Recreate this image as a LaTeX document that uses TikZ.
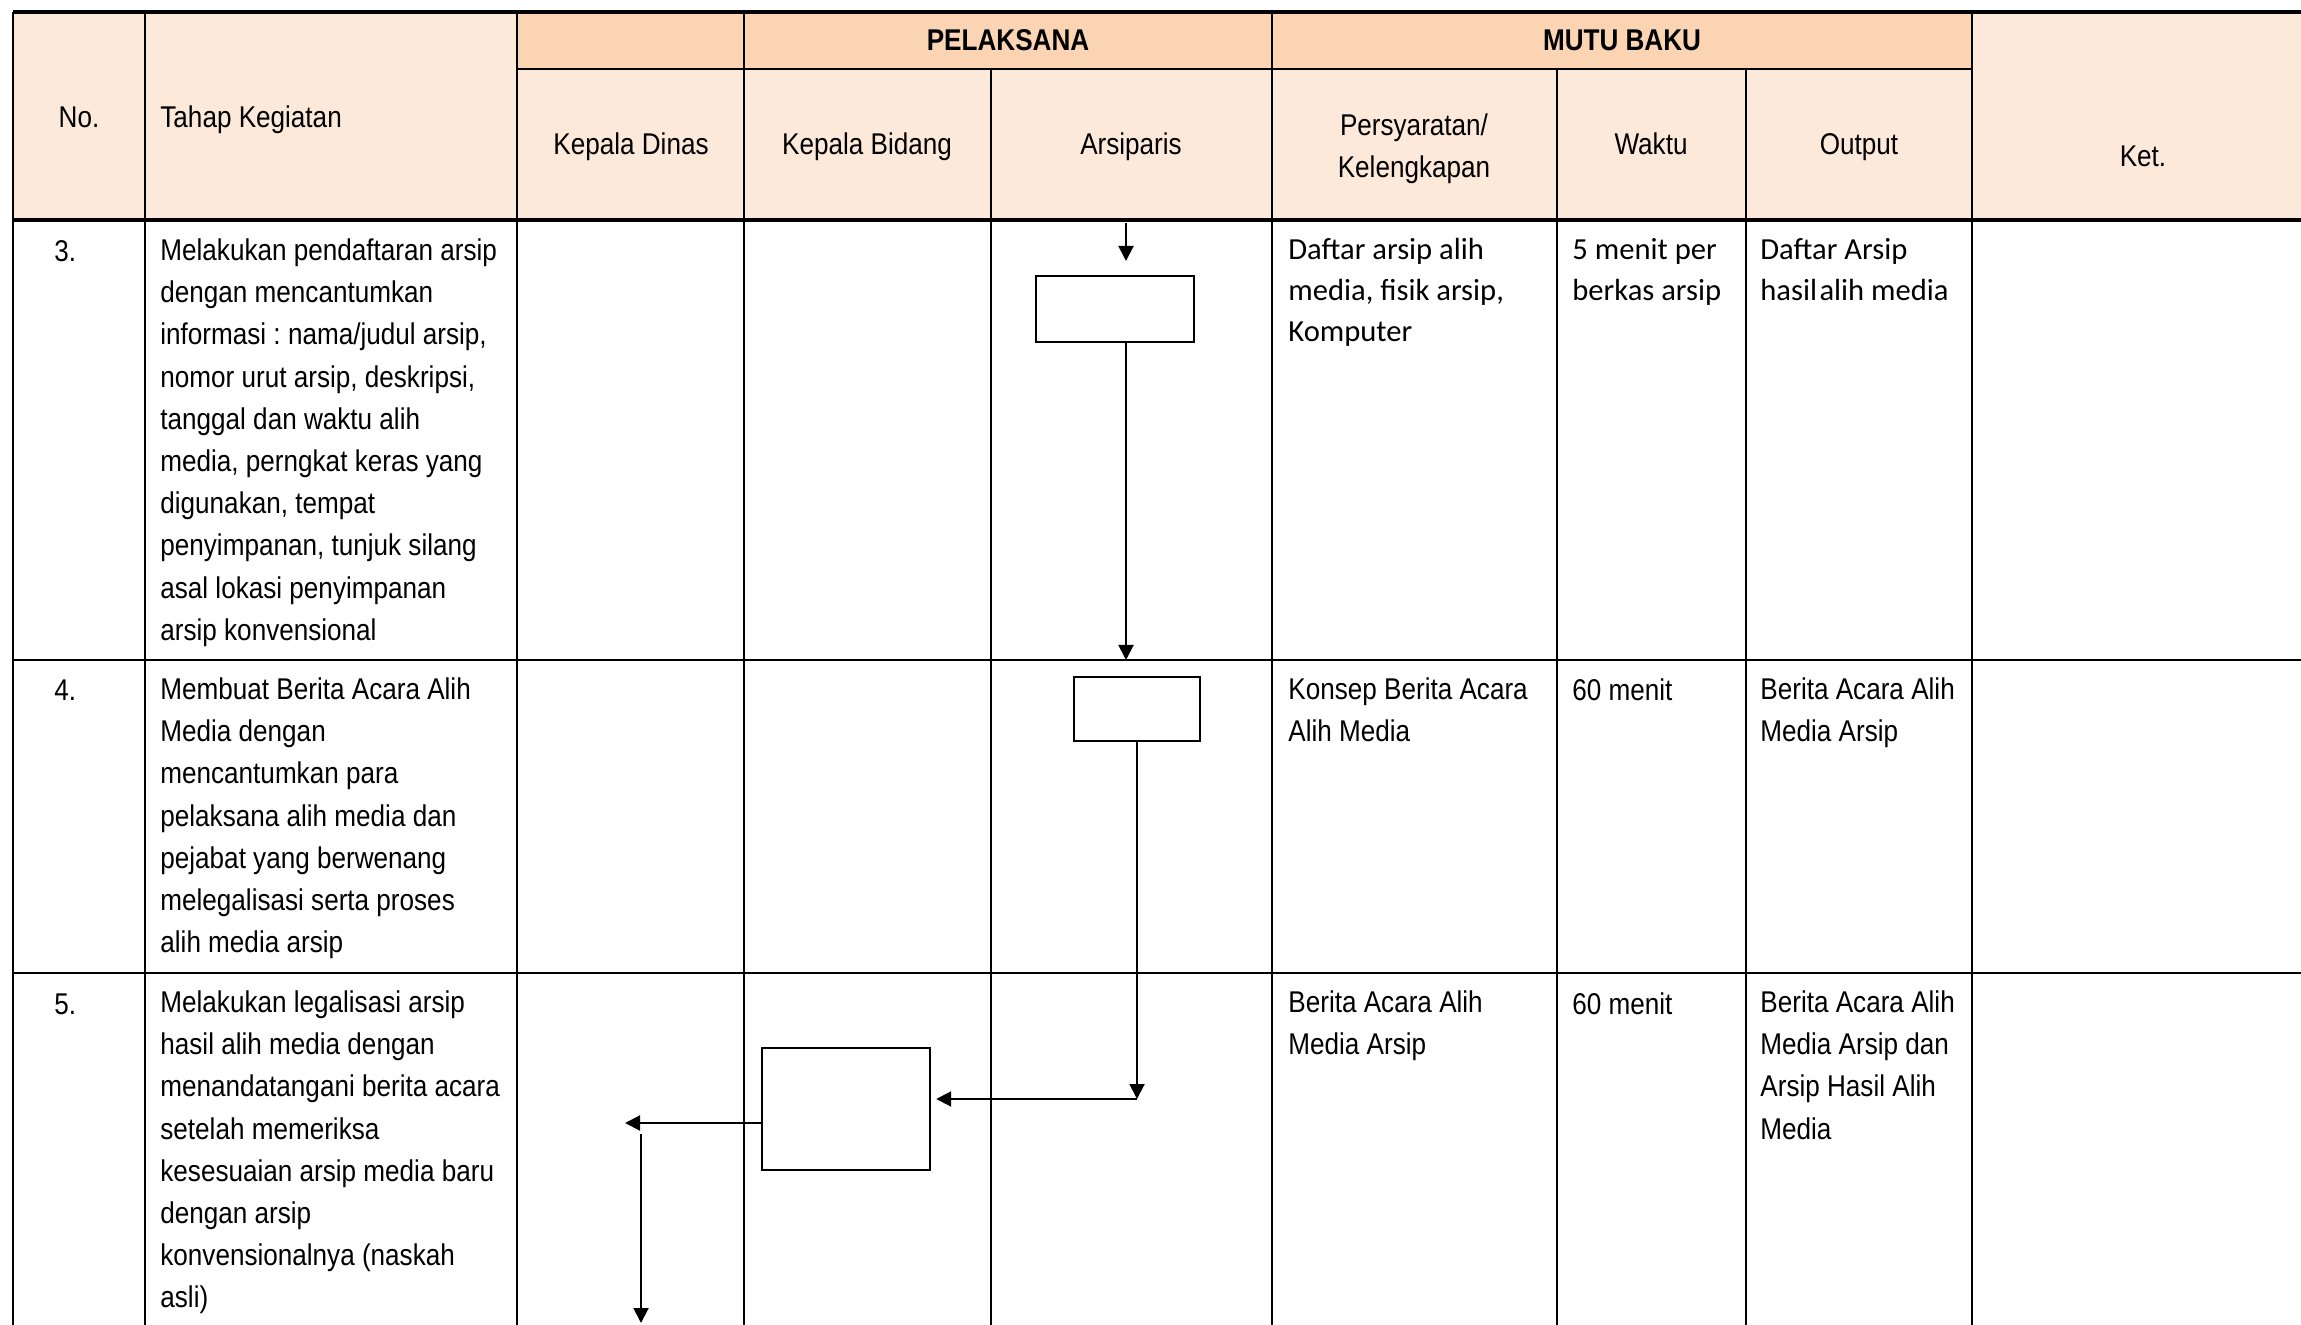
\documentclass[tikz,border=0pt]{standalone}
\usepackage{fontspec}
\setmainfont[FakeStretch=0.87]{Liberation Sans}
\newfontfamily\calibri{Carlito}
\frenchspacing
\usetikzlibrary{arrows.meta}
\definecolor{peachdark}{HTML}{FBD4B4}
\definecolor{peachlight}{HTML}{FDE9D9}
\tikzstyle{grid} = [line width=1.3pt]
\tikzstyle{gridthick} = [line width=1.7pt]
\tikzstyle{head} = [anchor=base, align=center, inner sep=0pt, font=\fontsize{15}{21}\selectfont]
\tikzstyle{headtwo} = [anchor=north, align=center, inner sep=0pt, font=\fontsize{15}{21}\selectfont, execute at begin node=\strut, yshift=11.2pt]
\tikzstyle{cellone} = [anchor=base west, inner sep=0pt, font=\fontsize{15}{21.1}\selectfont]
\tikzstyle{cell} = [anchor=north west, align=left, inner sep=0pt, font=\fontsize{15}{21.1}\selectfont, execute at begin node=\strut, yshift=11.8pt]
\tikzstyle{cellc} = [anchor=north west, align=left, inner sep=0pt, font=\calibri\fontsize{15.3}{20.5}\selectfont, execute at begin node=\strut, yshift=10pt]
\tikzstyle{process} = [rectangle, draw=black, line width=1.2pt, inner sep=0pt]
\tikzstyle{arrow} = [line width=1pt, -{Triangle[length=7.5pt, width=7.5pt]}]
\begin{document}
\begin{tikzpicture}[x=0.5pt, y=-0.5pt]
\useasboundingbox (0,0) rectangle (2301,1325);
% header fills
\fill[peachlight] (13,12) rectangle (2301,220);
\fill[peachdark] (517,12) rectangle (1972,69);
% table lines
\draw[gridthick] (13,12) -- (2301,12);
\draw[grid] (517,69) -- (1972,69);
\draw[gridthick] (13,220) -- (2301,220);
\draw[grid] (13,660) -- (2301,660);
\draw[grid] (13,973) -- (2301,973);
\foreach \x in {13,145,517,744,1272,1972}
  \draw[grid] (\x,12) -- (\x,1325);
\foreach \x in {991,1557,1746}
  \draw[grid] (\x,69) -- (\x,1325);

% header texts
\node(hno) [head] at (79,128) {No.};
\node(htahap) [head, anchor=base west] at (160,128) {Tahap Kegiatan};
\node(hpel) [head, font=\bfseries\fontsize{15}{21}\selectfont] at (1008,51) {PELAKSANA};
\node(hmutu) [head, font=\bfseries\fontsize{15}{21}\selectfont] at (1622,51) {MUTU BAKU};
\node(hdinas) [head] at (631,155) {Kepala Dinas};
\node(hbidang) [head] at (867,155) {Kepala Bidang};
\node(harsip) [head] at (1131,155) {Arsiparis};
\node(hsyarat) [headtwo] at (1414,136) {Persyaratan/\\Kelengkapan};
\node(hwaktu) [head] at (1651,155) {Waktu};
\node(houtput) [head] at (1859,155) {Output};
\node(hket) [head] at (2143,167) {Ket.};

% row 3
\node(no3) [cellone] at (54,262) {3.};
\node(tahap3) [cell] at (160,262) {Melakukan pendaftaran arsip\\dengan mencantumkan\\informasi : nama/judul arsip,\\nomor urut arsip, deskripsi,\\tanggal dan waktu alih\\media, perngkat keras yang\\digunakan, tempat\\penyimpanan, tunjuk silang\\asal lokasi penyimpanan\\arsip konvensional};
\node(syarat3) [cellc] at (1288,258) {Daftar arsip alih\\media, fisik arsip,\\Komputer};
\node(waktu3) [cellc] at (1572,258) {5 menit per\\berkas arsip};
\node(output3) [cellc] at (1760,258) {Daftar Arsip\\hasil\hspace{0.08em}alih media};

% row 4
\node(no4) [cellone] at (54,701) {4.};
\node(tahap4) [cell] at (160,701) {Membuat Berita Acara Alih\\Media dengan\\mencantumkan para\\pelaksana alih media dan\\pejabat yang berwenang\\melegalisasi serta proses\\alih media arsip};
\node(syarat4) [cell] at (1288,701) {Konsep Berita Acara\\Alih Media};
\node(waktu4) [cellone] at (1572,701) {60 menit};
\node(output4) [cell] at (1760,701) {Berita Acara Alih\\Media Arsip};

% row 5
\node(no5) [cellone] at (54,1014) {5.};
\node(tahap5) [cell] at (160,1014) {Melakukan legalisasi arsip\\hasil alih media dengan\\menandatangani berita acara\\setelah memeriksa\\kesesuaian arsip media baru\\dengan arsip\\konvensionalnya (naskah\\asli)};
\node(syarat5) [cell] at (1288,1014) {Berita Acara Alih\\Media Arsip};
\node(waktu5) [cellone] at (1572,1014) {60 menit};
\node(output5) [cell] at (1760,1014) {Berita Acara Alih\\Media Arsip dan\\Arsip Hasil Alih\\Media};

% flow boxes
\node(box3) [process, minimum width=79pt, minimum height=33pt] at (1115,309) {};
\node(box4) [process, minimum width=63pt, minimum height=32pt] at (1137,709) {};
\node(box5) [process, minimum width=84pt, minimum height=61pt] at (846,1109) {};
\coordinate(in3a) at (1126,223);
\coordinate(in3b) at (1126,261);
\coordinate(end3) at (1126,660);
\coordinate(turn4) at (1137,1099);
\coordinate(out5) at (625,1123);
\coordinate(down5a) at (641,1134);
\coordinate(down5b) at (641,1323);

\draw[arrow] (in3a) -- (in3b);
\draw[arrow] (box3.south -| end3) -- (end3);
\draw[arrow] (box4.south) -- (turn4);
\draw[arrow, shorten >=2.5pt] (turn4) -- (box5.east |- turn4);
\draw[arrow] (box5.west |- out5) -- (out5);
\draw[arrow] (down5a) -- (down5b);
\end{tikzpicture}
\end{document}
